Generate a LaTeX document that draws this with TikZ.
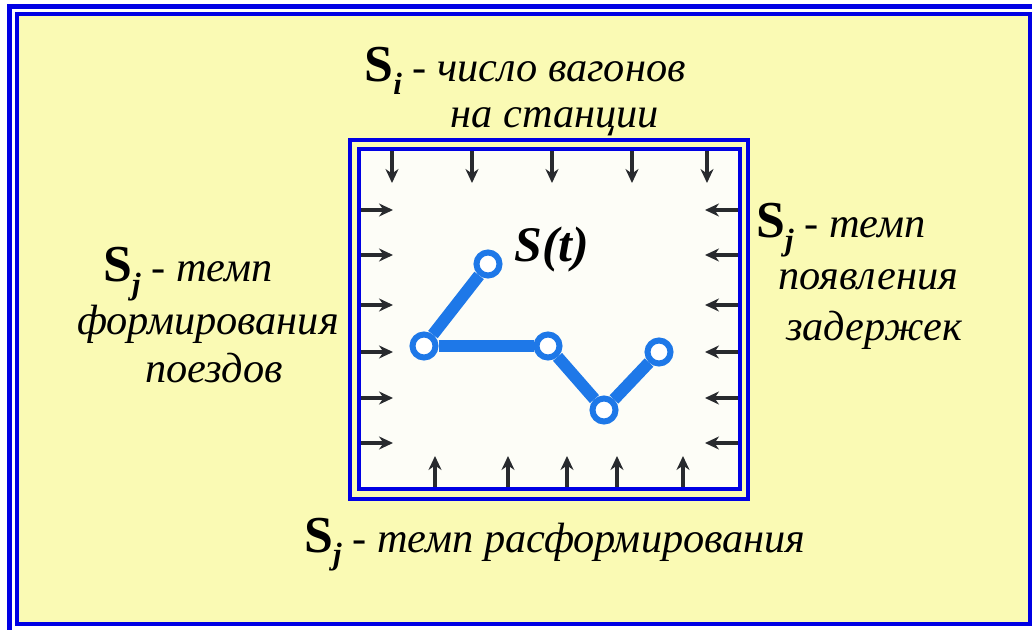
\documentclass[tikz,border=0pt]{standalone}
\usepackage{fontspec}
\setmainfont{Liberation Serif}
\usetikzlibrary{arrows.meta}
\definecolor{bgyellow}{RGB}{250,250,180}
\definecolor{boxwhite}{RGB}{253,253,247}
\definecolor{frameblue}{RGB}{0,0,228}
\definecolor{lineblue}{RGB}{30,120,232}
\definecolor{arrowgray}{RGB}{40,42,46}
\newcommand{\rateS}[1]{{\fontsize{52}{54}\selectfont\bfseries\upshape S}\raisebox{-0.3em}{\fontsize{31}{32}\selectfont\bfseries\itshape #1}}
\tikzset{
  lbl/.style={font=\fontsize{42.5}{48}\selectfont\itshape, inner sep=0pt, anchor=base},
  pt/.style={circle, draw=lineblue, fill=white, line width=6bp, minimum size=23bp, inner sep=0pt},
  link/.style={lineblue, line width=12bp},
  flow/.style={arrowgray, line width=3.8bp, -{Stealth[length=14bp,width=13bp]}},
}
\begin{document}
\begin{tikzpicture}[x=1bp, y=-1bp]
  \useasboundingbox (0,0) rectangle (1032,630);
  % outer frame
  \fill[white] (0,0) rectangle (1032,630);
  \draw[frameblue, line width=5bp] (9.5,6.5) rectangle (1045,634);
  \draw[frameblue, line width=4bp, fill=bgyellow] (16.5,14) rectangle (1030,624);
  % station box
  \draw[frameblue, line width=4bp] (349.5,140) rectangle (748,499);
  \draw[frameblue, line width=4bp, fill=boxwhite] (358.5,149) rectangle (739.5,489);
  % inflows
  \foreach \x in {392,472,552,632,707}{\draw[flow] (\x,151) -- (\x,183);};
  \foreach \x in {435,508,567,617,683}{\draw[flow] (\x,487) -- (\x,456);};
  \foreach \y in {210,255,305,352,398,443}{\draw[flow] (361,\y) -- (393,\y);};
  \foreach \y in {210,255,305,352,398,443}{\draw[flow] (738,\y) -- (705,\y);};
  % trajectory S(t)
  \node[pt] (p1) at (488,264) {};
  \node[pt] (p2) at (424,346) {};
  \node[pt] (p3) at (548,346) {};
  \node[pt] (p4) at (604,410) {};
  \node[pt] (p5) at (659,352) {};
  \draw[link] (p1) -- (p2);
  \draw[link] (p2) -- (p3);
  \draw[link] (p3) -- (p4);
  \draw[link] (p4) -- (p5);
  \node[lbl, font=\fontsize{50}{54}\selectfont\bfseries\itshape] (st) at (552,262) {S(t)};
  % labels
  \node[lbl] (top1) at (525,82) {\rateS{i} - число вагонов};
  \node[lbl] (top2) at (555,128) {на станции};
  \node[lbl] (lft1) at (188,282) {\rateS{j} - темп};
  \node[lbl] (lft2) at (208,334) {формирования};
  \node[lbl] (lft3) at (214,382) {поездов};
  \node[lbl] (rgt1) at (841,238) {\rateS{j} - темп};
  \node[lbl] (rgt2) at (868,290) {появления};
  \node[lbl] (rgt3) at (874,340) {задержек};
  \node[lbl] (bot) at (555,552) {\rateS{j} - темп расформирования};
\end{tikzpicture}
\end{document}
